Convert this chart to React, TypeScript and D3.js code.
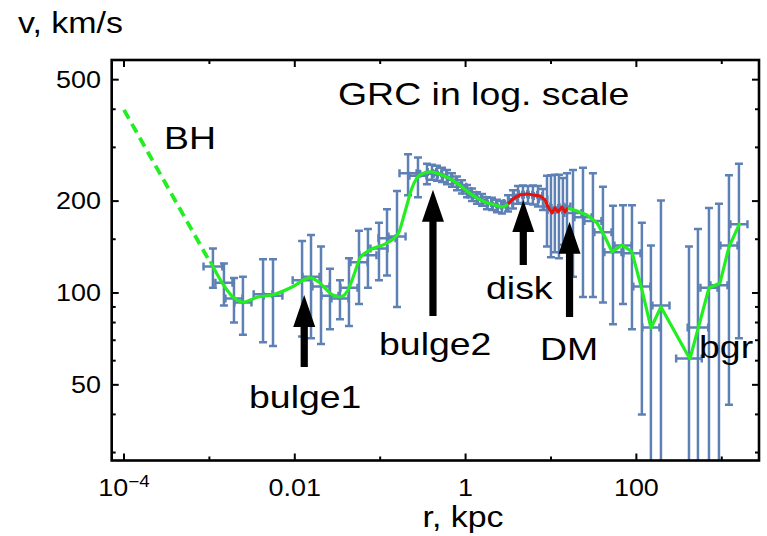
import React from "react";
import * as d3 from "d3";

// ---------- data ----------
// observed points: radius (kpc), velocity (km/s), velocity error (km/s), radius half-width (dex)
const obsR = [
  0.0011, 0.00148, 0.00194, 0.00247, 0.00425, 0.00556, 0.01217, 0.01549, 0.02027, 0.02582,
  0.0338, 0.0431, 0.0565, 0.0719, 0.0968, 0.1202, 0.1574, 0.212, 0.277, 0.353,
  0.404, 0.463, 0.53, 0.606, 0.693, 0.793, 0.908, 1.04, 1.19, 1.36, 1.56, 1.78, 2.04, 2.33, 2.67,
  3.14, 3.59, 4.11, 4.7, 5.38, 6.15, 7.05, 8.06,
  8.98, 10.0, 11.1, 12.4, 13.8, 15.4,
  18.1, 23.7, 31.0, 40.6, 53.2, 69.7, 88.8, 116, 148, 194, 413, 526, 708, 927, 1214, 1589,
];
const obsV = [
  122, 108, 96, 93, 99, 98, 110, 113, 105, 98,
  96, 104, 126, 133, 140, 151, 153, 247, 242, 246,
  249, 247, 244, 240, 235, 229, 223, 216, 210, 205, 202, 197, 196, 193, 191,
  197, 203, 210, 211, 210, 210, 208, 203,
  192, 187, 190, 187, 191, 192,
  183, 177, 172, 158, 136, 143, 135, 105, 77, 91, 61, 77, 104, 106, 143, 168,
];
const obsDV = [
  18, 17, 16, 20, 30, 31, 38, 42, 37, 22,
  14, 26, 34, 29, 30, 37, 63, 38, 36, 19,
  14, 14, 13, 13, 12, 12, 11, 10, 10, 9, 9, 9, 9, 9, 9,
  12, 14, 14, 14, 14, 15, 16, 16,
  50, 56, 54, 57, 47, 55,
  70, 80, 75, 65, 57, 51, 59, 65, 66, 110, 81, 85, 86, 90, 100, 97,
];
const obsDR = [
  0.11, 0.1, 0.1, 0.1, 0.11, 0.11, 0.11, 0.1, 0.1, 0.1,
  0.1, 0.1, 0.1, 0.1, 0.1, 0.1, 0.1, 0.1, 0.1, 0.08,
  0.05, 0.05, 0.05, 0.05, 0.05, 0.05, 0.05, 0.05, 0.05, 0.05, 0.05, 0.05, 0.05, 0.05, 0.05,
  0.05, 0.05, 0.05, 0.05, 0.05, 0.05, 0.05, 0.05,
  0.04, 0.04, 0.04, 0.04, 0.04, 0.04,
  0.1, 0.1, 0.1, 0.1, 0.1, 0.1, 0.1, 0.1, 0.1, 0.1, 0.15, 0.12, 0.1, 0.1, 0.1, 0.1,
];

// black hole (Keplerian) dashed curve
const bhR = [1e-4, 0.00102];
const bhV = [398, 126];

// smooth fit (bulges + halo start)
const fitR = [
  0.00102, 0.00141, 0.00189, 0.00247, 0.00371, 0.00541, 0.00929, 0.01508, 0.01972, 0.02582,
  0.0338, 0.042, 0.0507, 0.058, 0.076, 0.1138, 0.1616, 0.195, 0.236, 0.292,
  0.383, 0.53, 0.693, 0.908, 1.188, 1.687, 2.21, 2.74, 3.14,
];
const fitV = [
  127, 108, 97, 93.4, 97, 98.5, 104.6, 112, 107.8, 100,
  97, 102.3, 117.2, 130.2, 138.4, 144.7, 156.1, 184.3, 221, 243.7,
  249.3, 243.7, 234.7, 222.6, 209.6, 198.8, 194.3, 191.4, 195.8,
];

// disk segment (red)
const diskR = [3.14, 3.59, 4.33, 5.24, 6.15, 7.43, 8.51, 9.23, 10.27, 11.14, 12.08, 13.46, 14.59, 15.81];
const diskV = [195.8, 203.4, 209.6, 211.2, 209.6, 208, 201.8, 191.4, 182.9, 190, 184.3, 191.4, 184.3, 190];

// outer fit (DM + background)
const tailR = [15.81, 20.14, 26.4, 34.6, 42.9, 51.9, 67.8, 88.8, 116.3, 148.3, 194.1, 424, 708, 952, 1214, 1633];
const tailV = [190, 185.7, 180.2, 169.7, 152.6, 136.3, 143.6, 136.3, 102.3, 76.8, 90, 60.8, 103.8, 107.8, 141.5, 169.7];

// arrows: radius, tip velocity, tail velocity
const arrowR = [0.0129, 0.415, 4.74, 16.5];
const arrowTipV = [98.5, 217.7, 201.8, 171];
const arrowTailV = [57.2, 84.0, 123.5, 83.4];

// ticks
const xMajor = [1e-4, 1e-2, 1, 100];
const xMajorLabels = [["10", "−4"], ["0.01"], ["1"], ["100"]];
const xMinor = [1e-3, 1e-1, 10, 1000];
const yMajor = [50, 100, 200, 500];
const yMajorLabels = ["50", "100", "200", "500"];
const yMinor = [30, 40, 60, 70, 80, 90, 150, 300, 400];

// annotations
const notes = [
  { t: "GRC in log. scale", x: 338, y: 105 },
  { t: "BH", x: 164, y: 149 },
  { t: "bulge1", x: 249, y: 408 },
  { t: "bulge2", x: 379, y: 355 },
  { t: "disk", x: 486, y: 299 },
  { t: "DM", x: 540, y: 360 },
  { t: "bgr", x: 699, y: 358 },
];

// ---------- layout ----------
const W = 767;
const H = 536;
const L = 111.7, R = 759, T = 60, B = 460.5;
const FONT = "'Liberation Sans', Arial, sans-serif";
const SX = 1.17; // horizontal text stretch
const BLUE = "#5e81b5";
const GREEN = "#22ee22";

export default function App() {
  const x = d3.scaleLog().domain([Math.pow(10, -4.144), Math.pow(10, 3.436)]).range([L, R]);
  const y = d3.scaleLog().domain([28.25, 580]).range([B, T]);

  const pts = obsR.map((r, i) => ({ r, v: obsV[i], dv: obsDV[i], dr: obsDR[i] }));

  const lineSmooth = d3
    .line<number>()
    .x((_, i) => x(fitR[i]))
    .y((d) => y(d))
    .curve(d3.curveMonotoneX);
  const lineLin = (rs: number[]) =>
    d3
      .line<number>()
      .x((_, i) => x(rs[i]))
      .y((d) => y(d))
      .curve(d3.curveLinear);

  const cap = 4;
  const yLow = (v: number) => (v > 1 ? y(v) : B + 20);

  const stretch = (tx: number, ty: number) => `translate(${tx},${ty}) scale(${SX},1)`;

  return (
    <div style={{ position: "absolute", left: 0, top: 0 }}>
      <svg width={W} height={H} style={{ display: "block", background: "#fff" }} fontFamily={FONT}>
        <defs>
          <clipPath id="plotClip">
            <rect x={L} y={T} width={R - L} height={B - T} />
          </clipPath>
        </defs>

        {/* error bars */}
        <g clipPath="url(#plotClip)" stroke={BLUE} strokeWidth={2.5} fill="none">
          {pts.map((p, i) => {
            const cx = x(p.r);
            const cy = y(p.v);
            const yt = y(p.v + p.dv);
            const yb = yLow(p.v - p.dv);
            const xl = x(p.r / Math.pow(10, p.dr));
            const xr = x(p.r * Math.pow(10, p.dr));
            return (
              <g key={i}>
                <line x1={cx} x2={cx} y1={yt} y2={yb} />
                <line x1={cx - cap} x2={cx + cap} y1={yt} y2={yt} />
                <line x1={cx - cap} x2={cx + cap} y1={yb} y2={yb} />
                <line x1={xl} x2={xr} y1={cy} y2={cy} />
                <line x1={xl} x2={xl} y1={cy - cap} y2={cy + cap} />
                <line x1={xr} x2={xr} y1={cy - cap} y2={cy + cap} />
              </g>
            );
          })}
        </g>

        {/* fit curves */}
        <g clipPath="url(#plotClip)" fill="none" strokeLinejoin="round">
          <path d={lineLin(bhR)(bhV) || ""} stroke={GREEN} strokeWidth={3.8} strokeDasharray="10 6" />
          <path d={lineSmooth(fitV) || ""} stroke={GREEN} strokeWidth={3.2} />
          <path d={lineLin(diskR)(diskV) || ""} stroke="#e8120c" strokeWidth={3} />
          <path d={lineLin(tailR)(tailV) || ""} stroke={GREEN} strokeWidth={3.2} />
        </g>

        {/* arrows */}
        <g fill="#000">
          {arrowR.map((r, i) => {
            const ax = x(r);
            const tip = y(arrowTipV[i]);
            const tail = y(arrowTailV[i]);
            const hl = 32, hw = 11, sw = 3.6;
            const d = `M${ax},${tip} L${ax + hw},${tip + hl} L${ax + sw},${tip + hl} L${ax + sw},${tail} L${ax - sw},${tail} L${ax - sw},${tip + hl} L${ax - hw},${tip + hl} Z`;
            return <path key={i} d={d} />;
          })}
        </g>

        {/* annotations */}
        {notes.map((n, i) => (
          <text key={i} transform={stretch(n.x, n.y)} fontSize={32} fill="#000">
            {n.t}
          </text>
        ))}

        {/* frame */}
        <rect x={L} y={T} width={R - L} height={B - T} fill="none" stroke="#000" strokeWidth={2.6} />

        {/* ticks */}
        <g stroke="#000" strokeWidth={2}>
          {xMajor.map((v, i) => (
            <g key={"xM" + i}>
              <line x1={x(v)} x2={x(v)} y1={B} y2={B - 7} />
              <line x1={x(v)} x2={x(v)} y1={T} y2={T + 7} />
            </g>
          ))}
          {xMinor.map((v, i) => (
            <g key={"xm" + i}>
              <line x1={x(v)} x2={x(v)} y1={B} y2={B - 4} />
              <line x1={x(v)} x2={x(v)} y1={T} y2={T + 4} />
            </g>
          ))}
          {yMajor.map((v, i) => (
            <g key={"yM" + i}>
              <line x1={L} x2={L + 7} y1={y(v)} y2={y(v)} />
              <line x1={R} x2={R - 7} y1={y(v)} y2={y(v)} />
            </g>
          ))}
          {yMinor.map((v, i) => (
            <g key={"ym" + i}>
              <line x1={L} x2={L + 4} y1={y(v)} y2={y(v)} />
              <line x1={R} x2={R - 4} y1={y(v)} y2={y(v)} />
            </g>
          ))}
        </g>

        {/* tick labels */}
        {yMajor.map((v, i) => (
          <text key={"yl" + i} transform={stretch(101, y(v) + 8)} fontSize={23} textAnchor="end" fill="#000">
            {yMajorLabels[i]}
          </text>
        ))}
        {xMajor.map((v, i) => {
          const lab = xMajorLabels[i];
          return (
            <text key={"xl" + i} transform={stretch(x(v), 496)} fontSize={23} textAnchor="middle" fill="#000">
              {lab[0]}
              {lab.length > 1 ? (
                <tspan fontSize={16} dy={-9}>
                  {lab[1]}
                </tspan>
              ) : null}
            </text>
          );
        })}

        {/* axis labels */}
        <text transform={stretch(18, 33)} fontSize={29} fill="#000">
          v, km/s
        </text>
        <text transform={stretch(463, 527)} fontSize={29} textAnchor="middle" fill="#000">
          r, kpc
        </text>
      </svg>
    </div>
  );
}
